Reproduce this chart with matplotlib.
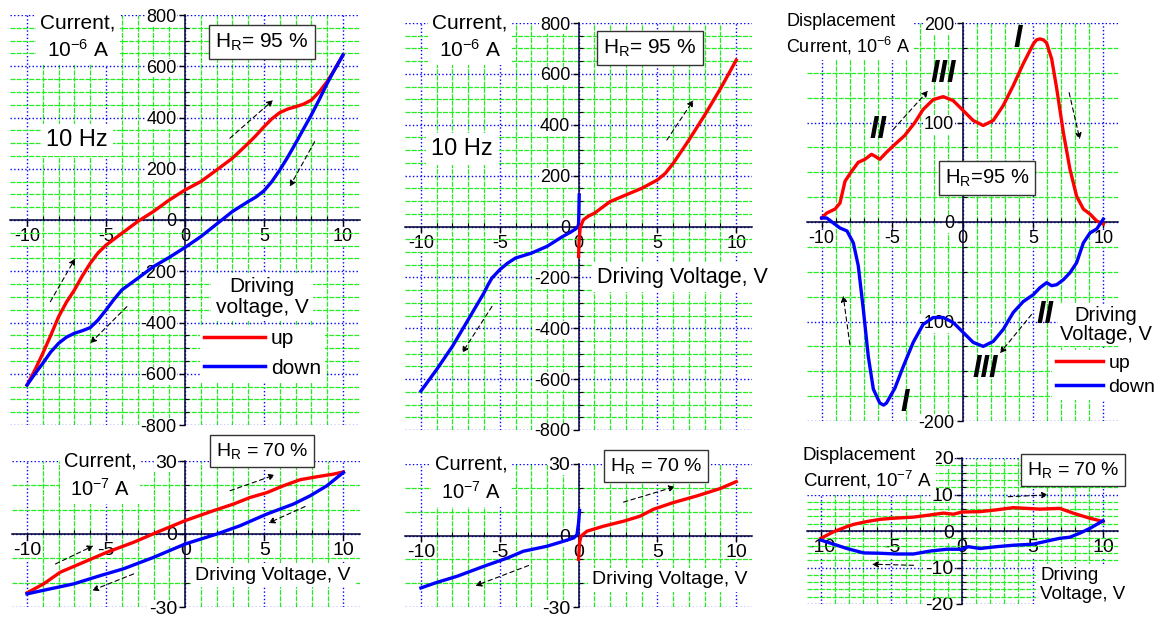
import matplotlib
matplotlib.use("Agg")
import matplotlib.pyplot as plt
from matplotlib.ticker import MultipleLocator, FixedLocator
from matplotlib.lines import Line2D

plt.rcParams['font.family'] = ['Liberation Sans', 'DejaVu Sans']
plt.rcParams['mathtext.fontset'] = 'custom'
plt.rcParams['mathtext.rm'] = 'Liberation Sans'
plt.rcParams['mathtext.default'] = 'regular'
plt.rcParams['axes.unicode_minus'] = False

W, H = 1166, 617

# ---- data (voltage in V, current in the units of each panel) ----
# top left: 10 Hz, HR = 95 %
v1 = [-10, -9.5, -9, -8.5, -8, -7.5, -7, -6.5, -6, -5.5, -5, -4.5, -4, -3, -2, -1, 0, 1, 2, 3, 4,
      4.5, 5, 5.5, 6, 6.5, 7, 7.5, 8, 8.5, 9, 9.5, 10]
i1_up = [-644, -585, -520, -450, -377, -320, -273, -218, -169, -128, -98, -75, -52, -6, 33, 78, 117,
         150, 195, 241, 299, 330, 364, 395, 419, 433, 442, 452, 468, 500, 540, 590, 644]
i1_down = [-644, -600, -559, -515, -481, -457, -442, -432, -420, -390, -351, -310, -273, -228, -182,
           -146, -107, -65, -16, 33, 72, 90, 114, 150, 195, 245, 299, 355, 410, 470, 533, 590, 644]

# top middle: 10 Hz, HR = 95 %
v2_down = [-10, -9, -8, -7, -6, -5.75, -5.5, -5, -4.5, -4, -3, -2, -1, -0.5, -0.2, -0.05, 0.0, 0.02, 0.04]
i2_down = [-647, -562, -471, -366, -261, -230, -203, -170, -144, -124, -105, -78, -39, -22, -10, -2, 10, 60, 124]
v2_up = [0.0, 0.03, 0.1, 0.3, 0.6, 1, 2, 3, 4, 5, 5.5, 6, 7, 8, 9, 10]
i2_up = [-118, -60, -5, 26, 40, 52, 98, 124, 150, 183, 209, 248, 340, 438, 542, 654]

# top right: displacement current, HR = 95 %
v3_up = [-10, -9.64, -9.05, -8.7, -8.34, -7.87, -7.4, -6.93, -6.46, -6.2, -5.87, -5.4, -4.8, -4.1, -3.38,
         -2.8, -2.08, -1.37, -0.66, 0.05, 0.76, 1.47, 2.18, 2.89, 3.6, 4.31, 5.03, 5.25, 5.5, 5.75, 5.97,
         6.33, 6.69, 7.16, 7.63, 8.1, 8.58, 9.05, 9.53, 10]
i3_up = [4, 9, 13, 19, 41, 51, 60, 63, 68, 66, 63, 70, 78, 87, 100,
         113, 123, 126, 122, 112, 102, 97, 102, 117, 137, 159, 179, 183, 184, 183, 180,
         164, 134, 90, 53, 26, 13, 8, 1, -2]
v3_down = [10, 9.53, 9.05, 8.58, 8.1, 7.63, 7.16, 6.69, 6.33, 5.97, 5.5, 5.03, 4.31, 3.6, 2.89, 2.18,
           1.47, 0.76, 0.05, -0.66, -1.37, -2.08, -2.8, -3.5, -4.2, -4.8, -5.4, -5.6, -5.87, -6.33,
           -6.69, -7.04, -7.4, -7.75, -8.2, -8.7, -9.17, -9.64, -10]
i3_down = [3, -7, -11, -21, -41, -51, -58, -63, -64, -61, -66, -73, -80, -91, -108, -120,
           -125, -121, -111, -101, -96, -96, -103, -121, -145, -167, -182, -184, -182, -168,
           -135, -88, -44, -21, -9, -6, -1, 4, 4]

# bottom left: HR = 70 %
v4_up = [-10, -8.95, -7.9, -6.42, -4.95, -3.26, -1.79, 0, 1.79, 3.05, 4.1, 5.16, 6.2, 7.26, 8.3, 9.37, 10]
i4_up = [-24.2, -20.5, -15.7, -11.6, -7.5, -3.4, 0.7, 5.5, 9.6, 12.3, 15.0, 17.0, 19.8, 22.3, 23.5, 24.6, 25.5]
v4_down = [10, 8.95, 7.9, 6.84, 5.16, 3.47, 2.0, 0, -2.0, -3.9, -5.37, -7.05, -8.5, -10]
i4_down = [25.3, 19.8, 15.7, 12.3, 8.2, 3.4, 0.0, -4.1, -9.6, -14.3, -17.1, -20.5, -22.5, -24.6]

# bottom middle: HR = 70 %
v5_down = [-10, -9, -7.7, -6, -4.5, -3.5, -2, -0.95, -0.3, -0.1, 0.0, 0.06]
i5_down = [-22.0, -19.7, -17.1, -12.9, -9.4, -6.6, -4.5, -2.4, -1.0, 0.4, 5.3, 10.5]
v5_up = [0.0, 0.06, 0.15, 0.53, 1.58, 2.85, 3.9, 4.75, 6.0, 7.5, 8.98, 10]
i5_up = [-10.0, -3.1, -0.3, 1.8, 3.9, 6.0, 8.1, 11.0, 13.8, 16.6, 19.7, 22.6]

# bottom right: displacement current, HR = 70 %
v6_up = [-10, -9.1, -8.16, -7.7, -6.74, -5.8, -4.86, -3.44, -2.26, -1.32, -0.61, 0, 1.27, 2.45,
         3.63, 4.58, 5.52, 6.93, 7.88, 9.06, 10]
i6_up = [-2.0, -0.2, 1.2, 1.8, 2.6, 3.2, 3.5, 3.8, 4.4, 4.9, 4.6, 5.2, 5.3, 5.8,
         6.4, 6.2, 6.0, 6.2, 4.9, 3.5, 2.6]
v6_down = [10, 9.06, 8.35, 7.64, 6.93, 5.99, 5.05, 3.63, 2.45, 1.27, 0.45, 0, -1.08, -2.26,
           -3.44, -4.62, -5.8, -6.98, -8.16, -9.1, -10]
i6_down = [2.8, 0.7, -0.6, -1.7, -2.0, -2.8, -3.6, -3.9, -4.3, -4.8, -4.3, -5.0, -5.0, -5.5,
           -6.3, -6.3, -6.1, -6.0, -4.8, -3.6, -2.5]

# dashed direction arrows: (start, end) in data units
arrows1 = [((2.84, 319), (5.58, 468)), ((8.21, 306), (6.63, 130)),
           ((-8.53, -319), (-6.95, -150)), ((-3.68, -338), (-6.0, -481))]
arrows2 = [((5.6, 340), (7.29, 497)), ((-5.49, -314), (-7.39, -497))]
arrows3 = [((-4.92, 93), (-2.44, 132)), ((7.57, 130), (8.33, 83)),
           ((-8.0, -123), (-8.47, -74)), ((4.9, -93), (2.65, -132))]
arrows4 = [((2.84, 17.8), (5.68, 24.3)), ((7.58, 11.3), (5.26, 4.5)),
           ((-8.2, -12.3), (-5.79, -4.8)), ((-3.26, -16.4), (-5.89, -23.2))]
arrows5 = [((2.85, 14.0), (6.12, 20.5)), ((-3.17, -12.6), (-6.55, -21.1))]
arrows6 = [((3.28, 9.4), (6.1, 9.9)), ((-3.44, -9.4), (-6.39, -9.1))]

# roman numerals on the displacement-current loop
numerals = ["I", "III", "II", "II", "III", "I"]
numeral_pos = [(3.95, 184), (-1.37, 149), (-6.0, 92), (5.85, -93), (1.59, -148), (-4.1, -182)]

RED = "#ff0000"
BLUE = "#0000ff"

fig = plt.figure(figsize=(W / 100, H / 100), dpi=100)


def px_axes(left, top, right, bottom):
    return fig.add_axes([left / W, 1 - bottom / H, (right - left) / W, (bottom - top) / H])


def setup(ax, xlim, ylim, ymaj, ymin, fs):
    ax.set_xlim(*xlim)
    ax.set_ylim(*ylim)
    ax.patch.set_visible(False)
    for s in ["top", "right"]:
        ax.spines[s].set_visible(False)
    ax.spines["left"].set_position(("data", 0))
    ax.spines["bottom"].set_position(("data", 0))
    for s in ["left", "bottom"]:
        ax.spines[s].set_color("#000033")
        ax.spines[s].set_linewidth(1.1)
    ax.xaxis.set_major_locator(FixedLocator([-10, -5, 0, 5, 10]))
    ax.xaxis.set_minor_locator(FixedLocator(range(-10, 11)))
    ax.yaxis.set_major_locator(MultipleLocator(ymaj))
    ax.yaxis.set_minor_locator(MultipleLocator(ymin))
    ax.grid(which="minor", color="#22ee22", ls=(0, (4, 1)), lw=0.9)
    ax.grid(which="major", color=BLUE, ls=":", lw=1.0)
    ax.set_axisbelow(True)
    ax.tick_params(which="major", direction="out", length=4, width=1, labelsize=fs, pad=2)
    ax.tick_params(which="minor", direction="in", length=3, width=0.8)
    for lab in ax.get_xticklabels() + ax.get_yticklabels():
        lab.set_bbox(dict(facecolor="white", edgecolor="none", pad=0.5))


def label(x, y, s, fs, ha="center", ls=1.2, box=False, pad=0.2):
    if box:
        bb = dict(boxstyle="square,pad=0.3", facecolor="white", edgecolor="#333333", lw=1.0)
    else:
        bb = dict(boxstyle="square,pad=%g" % pad, facecolor="white", edgecolor="none")
    fig.text(x / W, 1 - y / H, s, fontsize=fs, ha=ha, va="center", multialignment=ha,
             linespacing=ls, bbox=bb)


def arrows(ax, pairs):
    for start, end in pairs:
        ax.annotate("", xy=end, xytext=start,
                    arrowprops=dict(arrowstyle="-|>", linestyle=(0, (4, 3)), lw=0.8,
                                    color="black", mutation_scale=9, shrinkA=0, shrinkB=0))


def legend(ax, x, y, fs, hl, sp):
    h = [Line2D([], [], color=RED, lw=2.5), Line2D([], [], color=BLUE, lw=2.5)]
    leg = ax.legend(h, ["up", "down"], loc="upper left", bbox_to_anchor=(x / W, 1 - y / H),
                    bbox_transform=fig.transFigure, fontsize=fs, handlelength=hl,
                    handletextpad=0.3, labelspacing=sp, borderpad=0.2, frameon=True,
                    fancybox=False, framealpha=1, borderaxespad=0)
    leg.get_frame().set_edgecolor("none")
    leg.set_zorder(10)


# ---- top left ----
ax1 = px_axes(10, 15, 360, 425)
setup(ax1, (-11.08, 11.08), (-800, 800), 200, 50, 13)
ax1.plot(v1, i1_up, color=RED, lw=2.4, zorder=4)
ax1.plot(v1, i1_down, color=BLUE, lw=2.4, zorder=4)
arrows(ax1, arrows1)
label(78, 37, "Current,\n10$^{-6}$ A", 15, ls=1.35)
label(262, 42, "H$_R$= 95 %", 15, box=True)
label(77, 140, "10 Hz", 17)
label(262, 297, "Driving\nvoltage, V", 15, ls=1.1)
legend(ax1, 200, 325, 15, 2.9, 0.5)

# ---- top middle ----
ax2 = px_axes(405, 23, 752, 430)
setup(ax2, (-11.01, 11.0), (-800, 800), 200, 50, 13)
ax2.plot(v2_down, i2_down, color=BLUE, lw=2.4, zorder=4)
ax2.plot(v2_up, i2_up, color=RED, lw=2.4, zorder=4)
arrows(ax2, arrows2)
label(470, 37, "Current,\n10$^{-6}$ A", 15, ls=1.35)
label(650, 48, "H$_R$= 95 %", 15, box=True)
label(462, 149, "10 Hz", 17)
label(682, 277, "Driving Voltage, V", 15.5)

# ---- top right ----
ax3 = px_axes(807, 23, 1118, 421)
setup(ax3, (-11.04, 11.04), (-200, 200), 100, 25, 13)
ax3.plot(v3_up, i3_up, color=RED, lw=2.4, zorder=4)
ax3.plot(v3_down, i3_down, color=BLUE, lw=2.4, zorder=4)
arrows(ax3, arrows3)
for s, (x, y) in zip(numerals, numeral_pos):
    ax3.text(x, y, s, fontsize=22, fontweight="bold", fontstyle="italic", ha="center", va="center")
label(786, 35, "Displacement\nCurrent, 10$^{-6}$ A", 13, ha="left", ls=1.25)
label(987, 178, "H$_R$=95 %", 14.5, box=True)
label(1106, 325, "Driving\nVoltage, V", 14.5, ls=1.05, pad=0.08)
legend(ax3, 1052, 350, 14, 2.4, 0.35)

# ---- bottom left ----
ax4 = px_axes(12, 461, 360, 607)
setup(ax4, (-10.95, 11.05), (-30, 30), 30, 10, 14)
ax4.plot(v4_up, i4_up, color=RED, lw=2.4, zorder=4)
ax4.plot(v4_down, i4_down, color=BLUE, lw=2.4, zorder=4)
arrows(ax4, arrows4)
label(100, 476, "Current,\n10$^{-7}$ A", 14.5, ls=1.4)
label(262, 451, "H$_R$ = 70 %", 14, box=True)
label(273, 575, "Driving Voltage, V", 14)

# ---- bottom middle ----
ax5 = px_axes(405, 464, 752, 607)
setup(ax5, (-11.01, 11.0), (-30, 30), 30, 10, 14)
ax5.plot(v5_down, i5_down, color=BLUE, lw=2.4, zorder=4)
ax5.plot(v5_up, i5_up, color=RED, lw=2.4, zorder=4)
arrows(ax5, arrows5)
label(471, 479, "Current,\n10$^{-7}$ A", 14.5, ls=1.4)
label(656, 466, "H$_R$ = 70 %", 14, box=True)
label(670, 580, "Driving Voltage, V", 14)

# ---- bottom right ----
ax6 = px_axes(807, 458, 1118, 604)
setup(ax6, (-10.99, 11.06), (-20, 20), 10, 2, 14)
ax6.plot(v6_up, i6_up, color=RED, lw=2.4, zorder=4)
ax6.plot(v6_down, i6_down, color=BLUE, lw=2.4, zorder=4)
arrows(ax6, arrows6)
label(803, 469, "Displacement\nCurrent, 10$^{-7}$ A", 13.5, ha="left", ls=1.3)
label(1073, 470, "H$_R$ = 70 %", 14, box=True)
label(1040, 585, "Driving\nVoltage, V", 13.5, ha="left", ls=1.1)

fig.savefig("out.png", dpi=100)
